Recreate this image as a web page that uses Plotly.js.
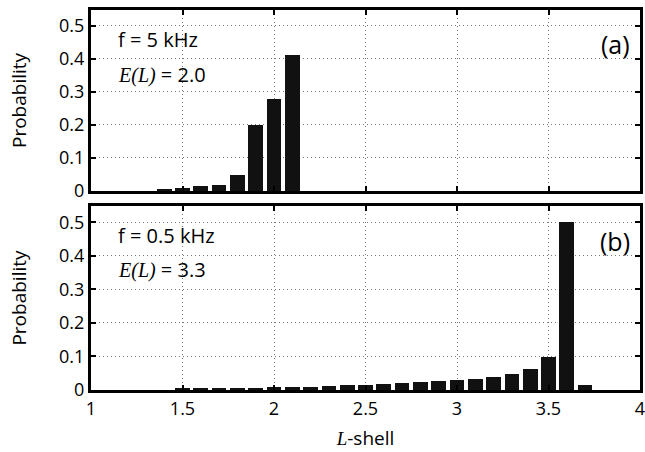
<!DOCTYPE html>
<html><head><meta charset="utf-8">
<script src="https://cdn.plot.ly/plotly-3.0.1.min.js"></script>
<style>body{margin:0;background:#fff}#c{width:645px;height:452px}</style>
</head><body><div id="c"></div>
<script>
const lA = [1.4, 1.5, 1.6, 1.7, 1.8, 1.9, 2.0, 2.1];
const pA = [0.006, 0.009, 0.015, 0.019, 0.049, 0.199, 0.28, 0.413];
const lB = [1.5, 1.6, 1.7, 1.8, 1.9, 2.0, 2.1, 2.2, 2.3, 2.4, 2.5, 2.6, 2.7, 2.8, 2.9, 3.0, 3.1, 3.2, 3.3, 3.4, 3.5, 3.6, 3.7];
const pB = [0.005, 0.005, 0.006, 0.007, 0.007, 0.008, 0.009, 0.009, 0.012, 0.014, 0.016, 0.019, 0.022, 0.025, 0.028, 0.031, 0.034, 0.040, 0.049, 0.063, 0.099, 0.50, 0.015];
const xTicks = [1, 1.5, 2, 2.5, 3, 3.5, 4];
const xTickText = ['1', '1.5', '2', '2.5', '3', '3.5', '4'];
const yTicks = [0, 0.1, 0.2, 0.3, 0.4, 0.5];
const yTickText = ['0', '0.1', '0.2', '0.3', '0.4', '0.5'];

const FONT = 'Open Sans, Lato, sans-serif';
const bar = {type: 'bar', marker: {color: '#111', line: {width: 0}}, width: 0.08, hoverinfo: 'skip', showlegend: false};
const traces = [
  Object.assign({}, bar, {x: lA, y: pA, xaxis: 'x2', yaxis: 'y2'}),
  Object.assign({}, bar, {x: lB, y: pB, xaxis: 'x', yaxis: 'y'})
];
const xax = {
  range: [1, 4], tickvals: xTicks, ticktext: xTickText, ticks: 'inside', ticklen: 5, tickwidth: 2,
  tickcolor: '#000', showline: true, linewidth: 3, linecolor: '#000', mirror: 'ticks',
  showgrid: true, gridcolor: '#777', griddash: '1px,3px', gridwidth: 1, zeroline: false,
  tickfont: {family: FONT, size: 18, color: '#000'}, fixedrange: true, ticklabeloverflow: 'allow'
};
const yax = {
  range: [0, 0.548], tickvals: yTicks, ticktext: yTickText, ticks: 'inside', ticklen: 5, tickwidth: 2,
  tickcolor: '#000', showline: true, linewidth: 3, linecolor: '#000', mirror: 'ticks',
  showgrid: true, gridcolor: '#777', griddash: '1px,3px', gridwidth: 1, zeroline: false,
  tickfont: {family: FONT, size: 18, color: '#000'}, fixedrange: true, ticklabeloverflow: 'allow',
  title: {text: 'Probability', font: {family: FONT, size: 19, color: '#000'}, standoff: 28}
};
const layout = {
  width: 645, height: 452, paper_bgcolor: '#fff', plot_bgcolor: '#fff',
  margin: {l: 91, r: 5, t: 10, b: 62}, bargap: 0,
  font: {family: FONT, color: '#000'},
  xaxis: Object.assign({}, xax, {domain: [0, 1], anchor: 'y',
    title: {text: '<span style="font-family:Liberation Serif"><i>L</i></span>-shell', font: {family: FONT, size: 19, color: '#000'}, standoff: 14}}),
  yaxis: Object.assign({}, yax, {domain: [0, 0.484], anchor: 'x'}),
  xaxis2: Object.assign({}, xax, {domain: [0, 1], anchor: 'y2', showticklabels: false}),
  yaxis2: Object.assign({}, yax, {domain: [0.5237, 1], anchor: 'x2'}),
  annotations: [
    {xref: 'x2 domain', yref: 'y2 domain', x: 0.045, y: 0.835, xanchor: 'left', yanchor: 'middle', showarrow: false,
     text: 'f = 5 kHz', font: {family: FONT, size: 20, color: '#000'}},
    {xref: 'x2 domain', yref: 'y2 domain', x: 0.045, y: 0.645, xanchor: 'left', yanchor: 'middle', showarrow: false,
     text: '<span style="font-family:Liberation Serif"><i>E(L)</i></span> = 2.0', font: {family: FONT, size: 20, color: '#000'}},
    {xref: 'x2 domain', yref: 'y2 domain', x: 0.985, y: 0.81, xanchor: 'right', yanchor: 'middle', showarrow: false,
     text: '(a)', font: {family: FONT, size: 25, color: '#000'}},
    {xref: 'x domain', yref: 'y domain', x: 0.045, y: 0.84, xanchor: 'left', yanchor: 'middle', showarrow: false,
     text: 'f = 0.5 kHz', font: {family: FONT, size: 20, color: '#000'}},
    {xref: 'x domain', yref: 'y domain', x: 0.045, y: 0.655, xanchor: 'left', yanchor: 'middle', showarrow: false,
     text: '<span style="font-family:Liberation Serif"><i>E(L)</i></span> = 3.3', font: {family: FONT, size: 20, color: '#000'}},
    {xref: 'x domain', yref: 'y domain', x: 0.985, y: 0.81, xanchor: 'right', yanchor: 'middle', showarrow: false,
     text: '(b)', font: {family: FONT, size: 25, color: '#000'}}
  ]
};
Plotly.newPlot('c', traces, layout, {staticPlot: true, displayModeBar: false});
</script></body></html>
